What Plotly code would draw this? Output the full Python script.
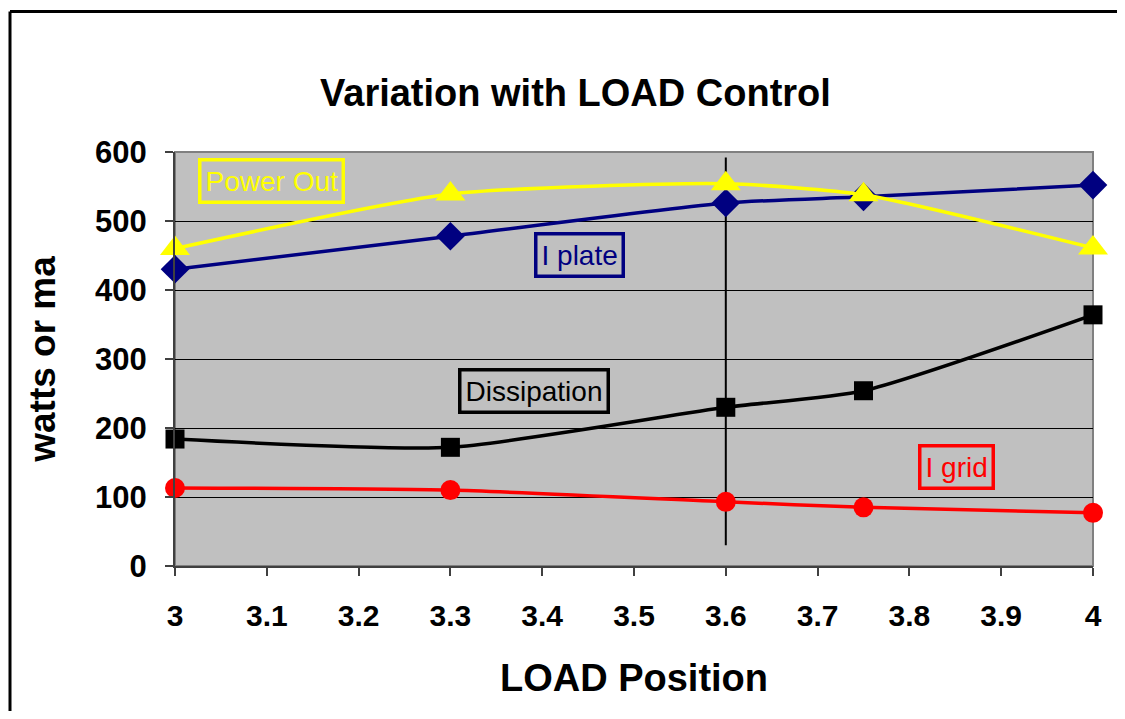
import plotly.graph_objects as go

load_pos = [3.0, 3.3, 3.6, 3.75, 4.0]
power_out = [460, 539, 554, 538, 461]
i_plate = [430, 478, 526, 535, 552]
dissipation = [184, 172, 230, 254, 364]
i_grid = [113, 110, 93, 85, 77]

marker_x = [3.6, 3.6]
marker_y = [30, 592]

x_ticks = [3.0, 3.1, 3.2, 3.3, 3.4, 3.5, 3.6, 3.7, 3.8, 3.9, 4.0]
x_tick_text = ["3", "3.1", "3.2", "3.3", "3.4", "3.5", "3.6", "3.7", "3.8", "3.9", "4"]
y_ticks = [0, 100, 200, 300, 400, 500, 600]

FONT = "Liberation Sans, Arial, sans-serif"

# reference-frame plot area (px)
PX0, PX1, PY0, PY1 = 175, 1093, 566, 152

def px_to_paper(xp, yp):
    return (xp - PX0) / (PX1 - PX0), (PY0 - yp) / (PY0 - PY1)

fig = go.Figure()

fig.add_trace(go.Scatter(x=marker_x, y=marker_y, mode="lines",
                         line=dict(color="black", width=2), cliponaxis=False,
                         showlegend=False, hoverinfo="skip"))

series = [
    ("I grid", i_grid, "#FF0000", "circle", 20),
    ("Dissipation", dissipation, "#000000", "square", 19),
    ("I plate", i_plate, "#000080", "diamond", 22),
    ("Power Out", power_out, "#FFFF00", "triangle-up", 26),
]
for name, vals, col, sym, size in series:
    fig.add_trace(go.Scatter(
        x=load_pos, y=vals, name=name, mode="lines+markers",
        line=dict(color=col, width=3.5, shape="spline", smoothing=0.6),
        marker=dict(color=col, symbol=sym, size=size, line=dict(width=0)),
        cliponaxis=False, showlegend=False))

def add_box(text, cx_px, cy_px, col):
    x, y = px_to_paper(cx_px, cy_px)
    fig.add_annotation(
        x=x, y=y, xref="paper", yref="paper", text=text, showarrow=False,
        font=dict(family=FONT, size=28, color=col),
        bordercolor=col, borderwidth=3.5, borderpad=4,
        xanchor="center", yanchor="middle")

add_box("Power Out", 271, 181, "#FFFF00")
add_box("I plate", 579, 255, "#000080")
add_box("Dissipation", 534, 391, "#000000")
add_box("I grid", 956, 467, "#FF0000")

# plot area border (gray on top/right)
fig.add_shape(type="rect", xref="paper", yref="paper", x0=0, y0=0, x1=1, y1=1,
              line=dict(color="#808080", width=2), layer="below")
# outer chart border: only its left and top edges are inside the picture
lx, ty_ = px_to_paper(10, 11.5)
rx, by_ = px_to_paper(1200, 800)
fig.add_shape(type="line", xref="paper", yref="paper", x0=lx, x1=lx, y0=by_, y1=ty_,
              line=dict(color="black", width=3))
fig.add_shape(type="line", xref="paper", yref="paper", x0=lx, x1=rx, y0=ty_, y1=ty_,
              line=dict(color="black", width=3))

tx, ty = px_to_paper(575, 93)
fig.add_annotation(text="<b>Variation with LOAD Control</b>", xref="paper", yref="paper",
                   x=tx, y=ty, showarrow=False,
                   font=dict(family=FONT, size=38, color="black"),
                   xanchor="center", yanchor="middle")

# page body has an 8px margin; compensate so the figure lands where the reference is
OFF = 8
W, H = 1125 - 2 * OFF, 719 - 2 * OFF
fig.update_layout(
    width=W, height=H,
    margin=dict(l=PX0 - OFF, r=W - (PX1 - OFF), t=PY1 - OFF, b=H - (PY0 - OFF)),
    paper_bgcolor="white", plot_bgcolor="#C0C0C0",
    font=dict(family=FONT, color="black"),
    xaxis=dict(range=[3, 4], tickvals=x_ticks, ticktext=x_tick_text,
               ticks="outside", ticklen=8, tickwidth=2, tickcolor="#404040",
               showgrid=False, zeroline=False,
               showline=True, linecolor="#404040", linewidth=2,
               tickfont=dict(family=FONT, size=30, color="black", weight="bold"),
               ticklabelstandoff=14,
               title=dict(text="<b>LOAD Position</b>", font=dict(family=FONT, size=38), standoff=33)),
    yaxis=dict(range=[0, 600], tickvals=y_ticks,
               ticks="outside", ticklen=8, tickwidth=2, tickcolor="#404040",
               showgrid=True, gridcolor="black", gridwidth=1, zeroline=False,
               showline=True, linecolor="#404040", linewidth=2,
               tickfont=dict(family=FONT, size=31, color="black", weight="bold"),
               ticklabelstandoff=12,
               title=dict(text="<b>watts or ma</b>", font=dict(family=FONT, size=37), standoff=28)),
)

fig.write_html("out.html")
